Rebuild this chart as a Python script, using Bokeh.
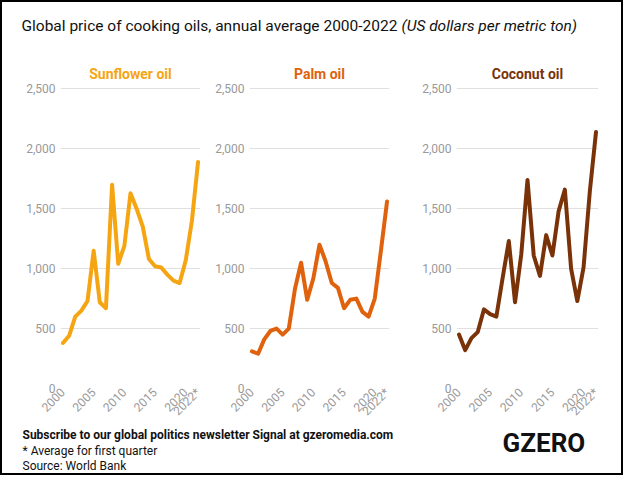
from bokeh.plotting import figure
from bokeh.layouts import column, row
from bokeh.models import FixedTicker, Range1d, NumeralTickFormatter, Label
from bokeh.embed import file_html
from bokeh.resources import INLINE
import math

years = list(range(2000, 2023))
sunflower = [380, 440, 600, 650, 730, 1150, 720, 670, 1700, 1040, 1190, 1630, 1500, 1350, 1080, 1020, 1010, 950, 900, 880, 1070, 1400, 1890]
palm = [310, 290, 410, 480, 500, 450, 500, 830, 1050, 740, 920, 1200, 1060, 880, 840, 670, 740, 750, 640, 600, 750, 1150, 1560]
coconut = [450, 320, 420, 470, 660, 620, 600, 920, 1230, 720, 1120, 1740, 1110, 940, 1280, 1110, 1480, 1660, 1000, 730, 1010, 1640, 2140]
names = ["Sunflower oil", "Palm oil", "Coconut oil"]
colors = ["#f5a511", "#e0620d", "#7a3309"]
series = [sunflower, palm, coconut]
tick_years = [2000, 2005, 2010, 2015, 2020, 2022]
tick_labels = {2022: "2022*"}
FONT = "Roboto"

W = 619
header = figure(width=W, height=46, toolbar_location=None, output_backend="svg",
                x_range=Range1d(0, W), y_range=Range1d(0, 46))
header.axis.visible = False
header.grid.visible = False
header.outline_line_color = None
header.min_border = 0
header.add_layout(Label(x=19, y=14, x_units="screen", y_units="screen",
                        text="Global price of cooking oils, annual average 2000-2022",
                        text_font=FONT, text_font_size="15.5px", text_color="#111"))
header.add_layout(Label(x=399, y=14, x_units="screen", y_units="screen",
                        text="(US dollars per metric ton)", text_font=FONT,
                        text_font_size="15.5px", text_font_style="italic", text_color="#111"))

panels = []
widths = [210, 189, 220]
lefts = [58, 37, 55]
rights = [12, 12, 23]
for i, (nm, col, vals) in enumerate(zip(names, colors, series)):
    p = figure(width=widths[i], height=378, toolbar_location=None, output_backend="svg",
               x_range=Range1d(1999.6, 2022.4), y_range=Range1d(0, 2520))
    p.title.text = nm
    p.title.align = "center"
    p.title.text_color = col
    p.title.text_font = FONT
    p.title.text_font_size = "14px"
    p.title.text_font_style = "bold"
    p.line(years, vals, line_color=col, line_width=4, line_join="round", line_cap="round")
    p.outline_line_color = None
    p.xgrid.visible = False
    p.ygrid.grid_line_color = "#e0e0e0"
    p.yaxis.ticker = FixedTicker(ticks=[0, 500, 1000, 1500, 2000, 2500])
    p.yaxis.formatter = NumeralTickFormatter(format="0,0")
    p.xaxis.ticker = FixedTicker(ticks=tick_years)
    p.xaxis.major_label_overrides = tick_labels
    p.xaxis.major_label_orientation = math.pi / 4
    p.xaxis.major_label_standoff = 2
    for ax in (p.xaxis, p.yaxis):
        ax.axis_line_color = None
        ax.major_tick_line_color = None
        ax.major_tick_out = 0
        ax.minor_tick_line_color = None
        ax.major_label_text_color = "#999999"
        ax.major_label_text_font = FONT
        ax.major_label_text_font_size = "12px"
    p.min_border_left = lefts[i]
    p.min_border_right = rights[i]
    p.min_border_top = 38
    p.min_border_bottom = 30
    panels.append(p)

footer = figure(width=W, height=47, toolbar_location=None, output_backend="svg",
                x_range=Range1d(0, W), y_range=Range1d(0, 47))
footer.axis.visible = False
footer.grid.visible = False
footer.outline_line_color = None
footer.min_border = 0
footer.add_layout(Label(x=20, y=32, x_units="screen", y_units="screen",
                        text="Subscribe to our global politics newsletter Signal at gzeromedia.com",
                        text_font=FONT, text_font_size="12px", text_font_style="bold", text_color="#111"))
footer.add_layout(Label(x=20, y=16, x_units="screen", y_units="screen",
                        text="* Average for first quarter", text_font=FONT,
                        text_font_size="12px", text_color="#111"))
footer.add_layout(Label(x=20, y=1, x_units="screen", y_units="screen",
                        text="Source: World Bank", text_font=FONT,
                        text_font_size="12px", text_color="#111"))
footer.add_layout(Label(x=500, y=16, x_units="screen", y_units="screen",
                        text="GZERO", text_font=FONT, text_font_size="26px",
                        text_font_style="bold", text_color="#111"))

layout = column(header, row(*panels), footer,
                styles={"border": "2px solid black"})
open("out.html", "w").write(file_html(layout, INLINE))
